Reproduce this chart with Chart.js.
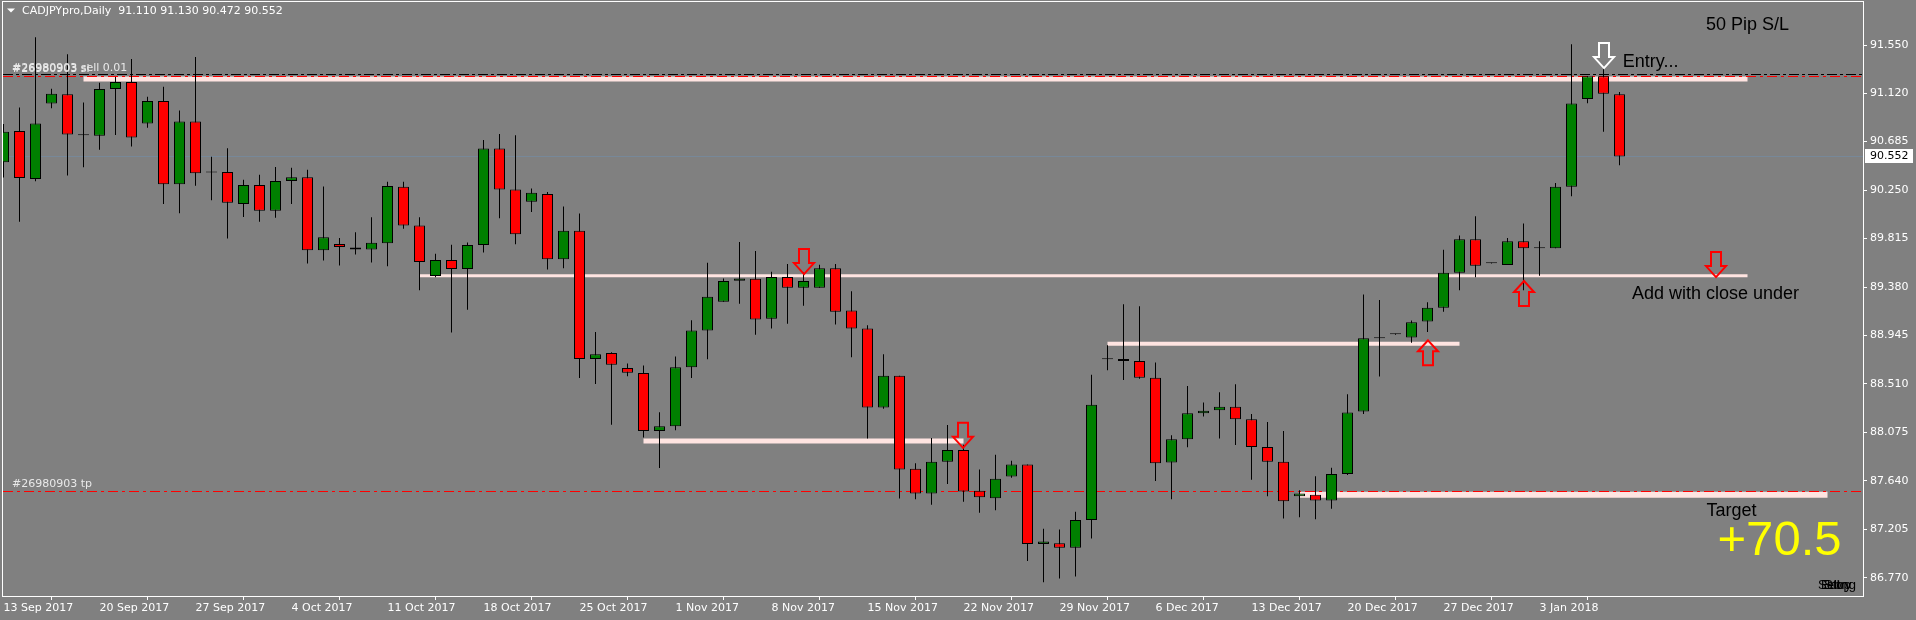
<!DOCTYPE html>
<html>
<head>
<meta charset="utf-8">
<script src="https://cdn.jsdelivr.net/npm/chart.js@4.4.0/dist/chart.umd.min.js"></script>
<style>
  html, body { margin: 0; padding: 0; background: #808080; overflow: hidden; }
</style>
</head>
<body>
<canvas id="chart" width="1916" height="620"></canvas>
<script>
const symbol = 'CADJPYpro';
const period = 'Daily';

// one tick per week on the time axis (candle index)
const weekIdx = [0, 6, 12, 18, 24, 30, 36, 42, 48, 54, 60, 66, 72, 78, 84, 90, 96];
const weekLabels = ['13 Sep 2017', '20 Sep 2017', '27 Sep 2017', '4 Oct 2017', '11 Oct 2017', '18 Oct 2017',
    '25 Oct 2017', '1 Nov 2017', '8 Nov 2017', '15 Nov 2017', '22 Nov 2017', '29 Nov 2017', '6 Dec 2017',
    '13 Dec 2017', '20 Dec 2017', '27 Dec 2017', '3 Jan 2018'];
const priceTicks = [91.550, 91.120, 90.685, 90.250, 89.815, 89.380, 88.945, 88.510, 88.075, 87.640, 87.205, 86.770];

const opens = [
    90.500, 90.780, 90.349, 91.026, 91.110, 90.749, 90.738, 91.156, 91.219, 90.847,
    91.050, 90.303, 90.864, 90.412, 90.412, 90.124, 90.296, 90.064, 90.331, 90.366,
    89.710, 89.766, 89.735, 89.717, 89.773, 90.279, 89.931, 89.479, 89.622, 89.542,
    89.756, 90.622, 90.254, 90.145, 90.215, 89.629, 89.886, 88.735, 88.787, 88.654,
    88.608, 88.089, 88.131, 88.661, 88.991, 89.247, 89.436, 89.454, 89.096, 89.471,
    89.373, 89.373, 89.549, 89.170, 89.008, 88.300, 88.584, 87.749, 87.528, 87.812,
    87.917, 87.552, 87.486, 87.679, 87.787, 87.075, 87.082, 87.040, 87.289, 88.735,
    88.735, 88.717, 88.566, 87.805, 88.015, 88.247, 88.275, 88.307, 88.194, 87.945,
    87.812, 87.503, 87.517, 87.464, 87.703, 88.264, 88.924, 88.956, 88.928, 89.071,
    89.194, 89.507, 89.808, 89.594, 89.577, 89.791, 89.728, 89.728, 90.279, 91.068,
    91.271, 91.110
];
const highs = [
    90.843, 90.991, 91.622, 91.159, 91.468, 91.036, 91.212, 91.264, 91.426, 91.086,
    91.177, 90.963, 91.443, 90.549, 90.626, 90.342, 90.387, 90.457, 90.450, 90.433,
    90.282, 89.819, 89.871, 90.005, 90.324, 90.324, 90.005, 89.679, 89.759, 89.780,
    90.700, 90.752, 90.742, 90.264, 90.233, 90.103, 90.040, 88.977, 88.794, 88.693,
    88.675, 88.257, 88.756, 89.082, 89.598, 89.457, 89.784, 89.703, 89.517, 89.587,
    89.510, 89.580, 89.587, 89.342, 89.036, 88.777, 88.584, 87.798, 88.026, 88.142,
    87.966, 87.742, 87.875, 87.822, 87.787, 87.212, 87.205, 87.363, 88.594, 88.857,
    89.226, 89.208, 88.703, 88.050, 88.493, 88.345, 88.436, 88.507, 88.240, 88.170,
    88.089, 87.556, 87.682, 87.759, 88.419, 89.314, 89.264, 88.960, 89.079, 89.243,
    89.714, 89.843, 90.015, 89.598, 89.819, 89.949, 89.791, 90.314, 91.559, 91.271,
    91.352, 91.130
];
const lows = [
    90.363, 89.966, 90.328, 90.984, 90.380, 90.454, 90.612, 90.745, 90.640, 90.808,
    90.124, 90.043, 90.289, 90.159, 89.815, 90.008, 89.966, 90.001, 90.124, 89.591,
    89.619, 89.573, 89.671, 89.601, 89.566, 89.903, 89.352, 89.468, 88.973, 89.177,
    89.689, 89.998, 89.763, 90.054, 89.538, 89.549, 88.563, 88.510, 88.145, 88.580,
    88.029, 87.756, 88.096, 88.563, 88.731, 89.247, 89.229, 88.952, 89.008, 89.050,
    89.212, 89.373, 89.043, 88.749, 88.022, 88.289, 87.482, 87.475, 87.426, 87.612,
    87.454, 87.356, 87.377, 87.668, 86.921, 86.731, 86.766, 86.784, 87.124, 88.633,
    88.545, 88.556, 87.640, 87.475, 87.942, 88.219, 88.022, 87.963, 87.650, 87.503,
    87.303, 87.314, 87.296, 87.391, 87.693, 88.240, 88.577, 88.952, 88.879, 88.977,
    89.159, 89.352, 89.468, 89.590, 89.577, 89.352, 89.482, 89.728, 90.194, 91.029,
    90.773, 90.472
];
const closes = [
    90.773, 90.359, 90.847, 91.114, 90.749, 90.742, 91.156, 91.219, 90.721, 91.050,
    90.303, 90.864, 90.401, 90.408, 90.135, 90.296, 90.064, 90.331, 90.366, 89.710,
    89.826, 89.738, 89.717, 89.777, 90.286, 89.931, 89.605, 89.622, 89.542, 89.756,
    90.622, 90.254, 89.854, 90.226, 89.629, 89.886, 88.735, 88.777, 88.682, 88.612,
    88.089, 88.131, 88.661, 88.991, 89.293, 89.433, 89.457, 89.089, 89.471, 89.373,
    89.433, 89.549, 89.159, 89.008, 88.300, 88.584, 87.742, 87.528, 87.812, 87.917,
    87.545, 87.493, 87.661, 87.787, 87.075, 87.096, 87.040, 87.289, 88.324, 88.731,
    88.717, 88.566, 87.798, 88.015, 88.247, 88.271, 88.307, 88.194, 87.945, 87.812,
    87.457, 87.528, 87.464, 87.703, 88.254, 88.921, 88.921, 88.956, 89.064, 89.194,
    89.507, 89.808, 89.570, 89.594, 89.791, 89.728, 89.728, 90.279, 91.026, 91.271,
    91.114, 90.552
];

const bidPrice = 90.552;
const orderTicket = '#26980903';
const entryPrice = 91.291;
const slPrice = 91.273;
const tpPrice = 87.547;

// hand drawn levels: price, first and last candle index
const zonePrices = [91.247, 89.482, 87.999, 88.870, 87.516];
const zoneFrom = [5, 26, 40, 69, 81];
const zoneTo = [109, 109, 60, 91, 114];

// arrows: candle index, price of the tip, direction
const arrowIdx = [50, 60, 107, 89, 95, 100];
const arrowPrice = [89.496, 87.937, 89.469, 88.902, 89.434, 91.344];
const arrowDir = ['down', 'down', 'down', 'up', 'up', 'down'];

// text notes: candle index (centre), price (centre)
const noteText = ['50 Pip S/L', 'Entry...', 'Add with close under', 'Target', '+70.5'];
const noteIdx = [109, 101.2, 107, 108, 111];
const notePrice = [91.729, 91.396, 89.313, 87.370, 87.095];

const last = closes.length - 1;
const bodyColors = opens.map((o, i) => closes[i] > opens[i] ? '#008000' : (closes[i] < opens[i] ? '#FF0000' : '#000000'));

const uiFont = '11px "DejaVu Sans"';
const noteFont = '18px "Liberation Sans", Arial, sans-serif';
const zoneWidths = [5, 3, 5, 4, 6];
const arrowColors = ['#FF0000', '#FF0000', '#FF0000', '#FF0000', '#FF0000', '#FFFFFF'];

function drawArrow(ctx, px, py, dir, color) {
    const s = dir === 'down' ? -1 : 1;
    ctx.beginPath();
    ctx.moveTo(px, py);
    ctx.lineTo(px + 10, py + s * 11);
    ctx.lineTo(px + 5, py + s * 11);
    ctx.lineTo(px + 5, py + s * 25);
    ctx.lineTo(px - 5, py + s * 25);
    ctx.lineTo(px - 5, py + s * 11);
    ctx.lineTo(px - 10, py + s * 11);
    ctx.closePath();
    ctx.strokeStyle = color;
    ctx.lineWidth = 2;
    ctx.lineJoin = 'miter';
    ctx.stroke();
}

const overlay = {
    id: 'overlay',
    beforeDraw(chart) {
        const ctx = chart.ctx;
        ctx.save();
        ctx.fillStyle = '#808080';
        ctx.fillRect(0, 0, chart.width, chart.height);
        ctx.restore();
    },
    beforeDatasetsDraw(chart) {
        const {ctx, chartArea: a, scales: {x, y}} = chart;
        ctx.save();
        ctx.beginPath();
        ctx.rect(a.left, a.top, a.right - a.left, a.bottom - a.top);
        ctx.clip();

        // bid line
        ctx.strokeStyle = '#778899';
        ctx.lineWidth = 1;
        let py = Math.round(y.getPixelForValue(bidPrice)) + 0.5;
        ctx.beginPath(); ctx.moveTo(a.left, py); ctx.lineTo(a.right, py); ctx.stroke();

        // levels
        ctx.strokeStyle = '#FFE4E1';
        ctx.lineCap = 'butt';
        zonePrices.forEach((p, i) => {
            ctx.lineWidth = zoneWidths[i];
            const yy = y.getPixelForValue(p);
            ctx.beginPath();
            ctx.moveTo(x.getPixelForValue(zoneFrom[i]), yy);
            ctx.lineTo(x.getPixelForValue(zoneTo[i]), yy);
            ctx.stroke();
        });

        // order lines
        ctx.lineWidth = 1;
        ctx.strokeStyle = '#FF0000';
        ctx.setLineDash([10, 4, 3, 4]);
        [slPrice, tpPrice].forEach(p => {
            const yy = Math.round(y.getPixelForValue(p)) + 0.5;
            ctx.beginPath(); ctx.moveTo(a.left, yy); ctx.lineTo(a.right, yy); ctx.stroke();
        });
        ctx.strokeStyle = '#000000';
        ctx.setLineDash([10, 3, 3, 3]);
        py = Math.round(y.getPixelForValue(entryPrice)) + 0.5;
        ctx.beginPath(); ctx.moveTo(a.left, py); ctx.lineTo(a.right, py); ctx.stroke();
        ctx.setLineDash([]);
        ctx.restore();
    },
    afterDatasetsDraw(chart) {
        const {ctx, chartArea: a, scales: {x, y}} = chart;
        ctx.save();

        // order labels
        ctx.font = uiFont;
        ctx.fillStyle = '#E8E8E8';
        ctx.textAlign = 'left';
        ctx.textBaseline = 'middle';
        ctx.fillText(orderTicket + ' sell 0.01', a.left + 9, y.getPixelForValue(entryPrice) - 6);
        ctx.fillText(orderTicket + ' sl', a.left + 9, y.getPixelForValue(slPrice) - 7);
        ctx.fillText(orderTicket + ' tp', a.left + 9, y.getPixelForValue(tpPrice) - 7);

        // arrows
        arrowIdx.forEach((idx, i) => {
            drawArrow(ctx, Math.round(x.getPixelForValue(idx)), y.getPixelForValue(arrowPrice[i]), arrowDir[i], arrowColors[i]);
        });

        // notes
        ctx.textAlign = 'center';
        ctx.textBaseline = 'middle';
        noteText.forEach((t, i) => {
            const px = x.getPixelForValue(noteIdx[i]);
            const yy = y.getPixelForValue(notePrice[i]);
            if (t === '+70.5') {
                ctx.font = '49px "Liberation Sans", Arial, sans-serif';
                ctx.fillStyle = '#FFFF00';
                ctx.fillText(t, px, yy);
            } else if (t === 'Entry...') {
                ctx.font = noteFont;
                ctx.fillStyle = '#000000';
                ctx.textAlign = 'left';
                ctx.fillText(t, px, yy);
                ctx.textAlign = 'center';
            } else {
                ctx.font = noteFont;
                ctx.fillStyle = '#000000';
                ctx.fillText(t, px, yy);
            }
        });

        // overlapping object labels in the corner
        ctx.save();
        ctx.beginPath();
        ctx.rect(a.left, a.top, a.right - a.left, a.bottom - a.top);
        ctx.clip();
        ctx.font = '13px "Liberation Sans", Arial, sans-serif';
        ctx.fillStyle = '#000000';
        ctx.textAlign = 'left';
        ['Sell', 'Entry', 'Stop', 'Long'].forEach((t, i) => {
            ctx.fillText(t, a.right - 45 + i * 3, a.bottom - 11);
        });
        ctx.restore();

        // frame
        ctx.strokeStyle = '#FFFFFF';
        ctx.lineWidth = 1;
        ctx.strokeRect(2.5, 1.5, a.right - 2, a.bottom - 1);

        // title
        ctx.fillStyle = '#FFFFFF';
        ctx.beginPath();
        ctx.moveTo(7, 8.5); ctx.lineTo(15, 8.5); ctx.lineTo(11, 12.5); ctx.closePath();
        ctx.fill();
        ctx.font = uiFont;
        ctx.textAlign = 'left';
        ctx.textBaseline = 'middle';
        ctx.fillText(symbol + ',' + period + '  ' + opens[last].toFixed(3) + ' ' + highs[last].toFixed(3) + ' ' +
            lows[last].toFixed(3) + ' ' + closes[last].toFixed(3), 22, 11);

        // current price tag
        const by = y.getPixelForValue(bidPrice);
        ctx.fillStyle = '#FFFFFF';
        ctx.fillRect(a.right + 2, Math.round(by) - 7, 48, 14);
        ctx.fillStyle = '#000000';
        ctx.fillText(bidPrice.toFixed(3), a.right + 7, by);
        ctx.restore();
    }
};

new Chart(document.getElementById('chart'), {
    type: 'bar',
    data: {
        datasets: [{
            label: 'body',
            data: opens.map((o, i) => ({x: i, y: [o, closes[i]]})),
            backgroundColor: bodyColors,
            borderColor: '#000000',
            borderWidth: 1,
            borderSkipped: false,
            barThickness: 11,
            minBarLength: 1,
            grouped: false,
            inflateAmount: 0,
            clip: 0
        }, {
            label: 'wick',
            data: highs.map((h, i) => ({x: i, y: [lows[i], h]})),
            backgroundColor: '#000000',
            borderWidth: 0,
            barThickness: 1,
            grouped: false,
            inflateAmount: 0,
            clip: 0
        }]
    },
    options: {
        responsive: false,
        animation: false,
        devicePixelRatio: 1,
        layout: { padding: { left: 3, top: 2, right: 0, bottom: 0 } },
        plugins: { legend: { display: false }, tooltip: { enabled: false } },
        scales: {
            x: {
                type: 'linear',
                min: -1 / 32,
                max: 116.21875,
                offset: false,
                afterBuildTicks: s => { s.ticks = weekIdx.map(v => ({value: v})); },
                afterFit: s => { s.height = 24; },
                grid: { display: true, drawOnChartArea: false, drawTicks: true, tickLength: 4, color: '#FFFFFF' },
                border: { display: false },
                ticks: {
                    autoSkip: false, maxRotation: 0, minRotation: 0, align: 'start', padding: 2,
                    color: '#FFFFFF', font: { family: 'DejaVu Sans', size: 11 },
                    callback: (v, i) => weekLabels[i]
                }
            },
            y: {
                type: 'linear',
                position: 'right',
                min: 86.608,
                max: 91.869,
                afterBuildTicks: s => { s.ticks = priceTicks.map(v => ({value: v})); },
                afterFit: s => { s.width = 53; },
                grid: { display: true, drawOnChartArea: false, drawTicks: true, tickLength: 4, color: '#FFFFFF' },
                border: { display: false },
                ticks: {
                    padding: 3, color: '#FFFFFF', font: { family: 'DejaVu Sans', size: 11 },
                    callback: v => Number(v).toFixed(3)
                }
            }
        }
    },
    plugins: [overlay]
});
</script>
</body>
</html>
